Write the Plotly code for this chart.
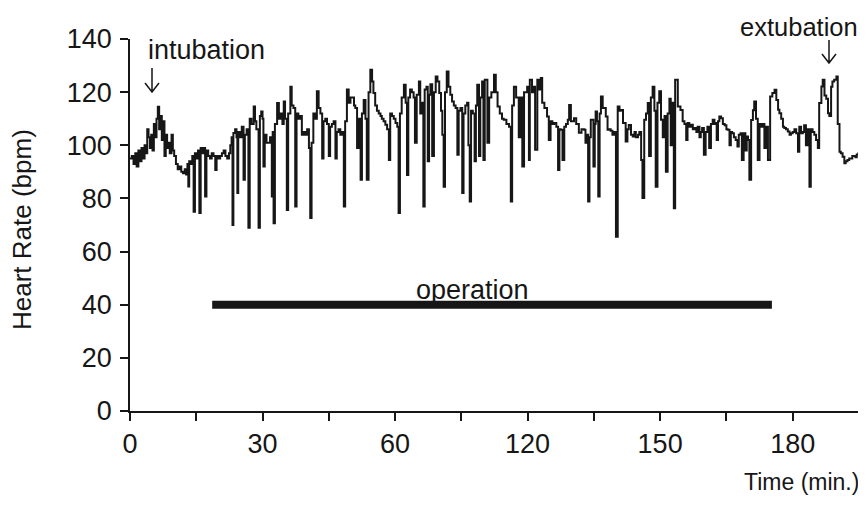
import plotly.graph_objects as go

# ---------------- data ----------------
# time axis in plotted position units (ticks every 15 units, labelled as in the original)
t_a = [0.0,0.4,0.8,1.2,1.5,1.9,2.3,2.6,3.0,3.3,3.6,3.9,4.2,4.5,4.8,5.1,5.4,5.7,6.0,6.3,6.6,6.9,7.2,7.5,7.8,
       8.1,8.4,8.7,9.0,9.4,9.7,10.0,10.4,10.8,11.2,11.6,12.0,12.4,12.7,13.0,13.2,13.4,13.8,14.1,14.4,14.7,15.1,15.4,15.7,16.0]
hr_a = [95,96,93,97,92,98,94,99,95,100,97,106,103,99,104,98,108,103,110,114.5,106,111,102,109,96,
        104,99,101,97,104,98,96,93,91,92,90,89.5,91,89,93,84.5,94,93,96,75,97,95,98,74.5,99]
t_b = [16.3,16.7,17.0,17.3,17.7,18.1,18.5,18.9,19.3,19.6,20.0,20.4,20.8,21.2,21.6,22.0,22.4,22.7,23.0,23.2,23.4,23.8,24.1,24.3,24.5]
hr_b = [97,99,80.7,98,96,95,97,96,90.7,96,95,96,97,98,96,95,97,100,103,70,104.6,106,103,82,105]
t_c = [24.9,25.3,25.7,26.0,26.4,26.8,27.1,27.5,28.0,28.3,28.6,29.1,29.4,29.7,30.0,30.2,30.5,30.9,31.3,31.7,32.1,32.3,32.5,32.8]
hr_c = [103,107,87,104,106,69,110,108,114.6,109,106,69,111,112.7,110,92,104,101,101,103,80.7,105,70.7,108]
t_d = [33.3,33.7,34.1,34.5,34.8,35.1,35.5,35.8,36.3,36.6,37.0,37.4,37.7,38.1,38.5,38.9,39.3,39.7,40.1,40.5,40.8,41.1,41.5,41.9,42.3]
hr_d = [115.9,110,112,108,116.5,110,75.6,112,122,115,114,77,112,110,111,104,105,104,106,99,72.6,101,112,110,120.3]
t_e = [42.7,43.1,43.5,43.8,44.2,44.6,45.0,45.3,45.7,46.1,46.5,46.8,47.2,47.6,48.0,48.4,48.7,49.1,49.5,49.9,50.3,50.7,51.0,51.4,51.8]
hr_e = [114,112,95,109,110,108,96,107,108,109,95,105,106,104,105,77,109,121,116,118,118,115,114,99,110]
t_f = [52.2,52.5,52.9,53.3,53.6,54.0,54.4,54.8,55.1,55.5,55.9,56.3,56.7,57.0,57.4,57.8,58.2,58.6,58.9,59.3,59.7,60.1,60.5,60.8,61.1]
hr_f = [87,112,117,110,87,120,128.4,124,119.7,115,113,112,111,110,109,107.7,106,94.5,112,111,110,108.4,107,74.5,112]
t_g = [61.5,62.0,62.4,62.7,63.0,63.4,63.8,64.2,64.5,64.9,65.4,65.7,66.0,66.4,66.7,67.1,67.4,67.7,68.0,68.4,68.8,69.2,69.6,70.0,70.4]
hr_g = [118,122.8,116,88.8,118,121,120,118,101,119,124,112,116,77,121,122,94,119,123,96,120,125.9,124,119.7,113]
t_h = [70.7,71.0,71.3,71.7,72.1,72.5,72.9,73.3,73.7,74.1,74.4,74.8,75.2,75.5,75.9,76.3,76.6,76.9,77.2,77.6,78.0,78.3,78.6,79.0,79.3]
hr_h = [104,84.4,120,127.8,122,119,116.5,115,114,96.4,113,114,82,112,115,116,100,78.8,113,112,94,115,122.8,96,118]
t_i = [79.7,80.0,80.3,80.9,81.3,81.8,82.4,82.8,83.2,83.7,84.2,84.6,85.2,85.8,86.2,86.5,86.9,87.4,88.0,88.4,88.8,89.2,89.9,90.3,90.5]
hr_i = [124,94.5,124.7,101,118,120,126.5,120,114.6,112,110,109.6,108,107,78.8,115,122,118,103,118,92,120,122,94.5,124.7]
t_j = [91.0,91.4,91.7,92.2,92.6,93.0,93.3,93.8,94.4,94.8,95.2,95.6,96.0,96.5,96.9,97.2,97.5,97.9,98.3,98.7,99.1,99.4,99.8,100.5,101.0]
hr_j = [120,122,98.3,124.7,121,125.3,116,114,110.8,102,109,108,108.4,107,90.7,106,105.8,94.5,107,108,109.6,115.2,109,110.2,108]
t_k = [101.6,102.2,102.8,103.1,103.4,103.7,104.0,104.3,104.9,105.2,105.4,105.7,106.0,106.3,106.6,107.0,107.7,108.1,108.5,108.8,109.2,109.6,110.0,110.4,110.8]
hr_k = [104.7,106,105.8,101,104,78.8,103,109.6,92,108,112.7,109,80.7,112,118.4,114,110.8,105.8,106,105.5,104,105,65.6,114.6,113]
t_l = [111.1,111.6,112.2,112.6,112.9,113.4,113.8,114.2,114.5,115.0,115.3,115.7,116.0,116.4,116.8,117.2,117.5,117.9,118.3,118.7,119.0,119.4,119.8,120.2,120.6]
hr_l = [113.3,108.4,101.4,106,107.6,104,103.3,105,103,104,105,94.5,80.2,109.6,112,115.9,96,118,122,113,84.4,116,120.3,109.6,103]
t_m = [121.0,121.3,121.7,122.1,122.4,122.8,123.1,123.4,124.0,124.6,125.1,125.5,125.9,126.2,126.6,127.0,127.4,127.8,128.2,128.5,128.9,129.2,129.5,129.9,130.3]
hr_m = [111,90,112,117.5,100,116,76.3,124.7,114.6,113.3,109,108,102,108.4,107,107.7,106,106.5,105,107,103,105,106.5,96.4,105]
t_n = [130.7,131.1,131.5,131.9,132.3,132.6,132.8,133.1,133.4,133.8,134.2,134.6,135.0,135.3,135.7,136.0,136.3,136.7,137.1,137.5,137.8,138.2,138.5,138.9,139.3]
hr_n = [107,99,108,109.6,108,108.4,102,109,110.8,110.2,108,107.5,106,105.8,100,105,104.5,103,102,99.5,104,104.5,94.5,104.5,98]
t_o = [139.6,139.9,140.2,140.6,141.0,141.3,141.7,142.1,142.5,142.9,143.2,143.6,144.0,144.4,144.9,145.4,145.9,146.3,146.7,147.0,147.4,147.8,148.1,148.5,148.9]
hr_o = [103.3,102,87,109.5,113.2,116.5,110,94.5,108,107,108,99,107,94.5,118.4,119.7,120.9,117,113.4,112.1,110,107,106.5,106,105.2]
t_p = [149.3,149.6,150.0,150.4,150.8,151.2,151.5,151.9,152.3,152.6,153.0,153.4,153.8,154.1,154.5,154.9,155.3,155.7,156.0,156.5,156.8,157.2,157.6,158.0,158.3]
hr_p = [104,104.5,105,106,104.5,97.6,107,104.5,105,107.5,100,106,84.4,106,105,104,102,99,115.9,122.1,124.7,118.7,117.5,112.1,111]
t_q = [158.7,159.0,159.4,159.9,160.2,160.6,160.9,161.3,161.7,162.0,162.4,162.8,163.1,163.5,163.8,164.2,164.5,164.9,165.2,165.6,165.9,166.3,166.6]
hr_q = [122,124,124.7,125.9,108,97.6,97,95.7,93.2,94,94.5,95,95,96,96,95.5,96.5,97,97.6,99,100.1,99,99.5]

time_segments = [t_a, t_b, t_c, t_d, t_e, t_f, t_g, t_h, t_i, t_j, t_k, t_l, t_m, t_n, t_o, t_p, t_q]
hr_segments = [hr_a, hr_b, hr_c, hr_d, hr_e, hr_f, hr_g, hr_h, hr_i, hr_j, hr_k, hr_l, hr_m, hr_n, hr_o, hr_p, hr_q]

time_pos = []
heart_rate = []
for ts, hs in zip(time_segments, hr_segments):
    n = min(len(ts), len(hs))
    time_pos.extend(ts[:n])
    heart_rate.extend(hs[:n])

# operation period (position units) and its level on the chart
operation_start = 18.6
operation_end = 145.3
operation_level = 40

# tick positions and labels (as printed in the original)
x_tick_vals = [0, 15, 30, 45, 60, 75, 90, 105, 120, 135, 150, 165]
x_tick_text = ["0", "", "30", "", "60", "", "120", "", "150", "", "180", ""]
y_tick_vals = [0, 20, 40, 60, 80, 100, 120, 140]

# ---------------- figure ----------------
FONT = "Liberation Sans, Arial, Helvetica, sans-serif"
INK = "#161616"
OFF = 8                       # page body margin of the generated html
W, H = 866, 508
ML, MR, MT, MB = 122, 8, 31, 105
PW, PH = W - ML - MR, H - MT - MB


def px_x(page_px):
    return (page_px - OFF - ML) / PW


def px_y(page_py):
    return (H - MB - (page_py - OFF)) / PH


fig = go.Figure()
fig.add_trace(go.Scatter(x=time_pos, y=heart_rate, mode="lines",
                         line=dict(color=INK, width=2, shape="hv"), hoverinfo="skip"))
fig.add_trace(go.Scatter(x=[operation_start, operation_end], y=[operation_level, operation_level],
                         mode="lines", line=dict(color=INK, width=8), hoverinfo="skip"))

fig.update_layout(
    width=W, height=H,
    margin=dict(l=ML, r=MR, t=MT, b=MB),
    plot_bgcolor="white", paper_bgcolor="white",
    showlegend=False,
    font=dict(family=FONT, size=27, color=INK),
)
fig.update_xaxes(range=[0, 166.6], showline=True, linecolor=INK, linewidth=1.5,
                 ticks="outside", ticklen=8, tickwidth=1.5, tickcolor=INK,
                 tickvals=x_tick_vals, ticktext=x_tick_text,
                 showgrid=False, zeroline=False, tickfont=dict(size=27, color=INK))
fig.update_yaxes(range=[0, 140], showline=True, linecolor=INK, linewidth=1.5,
                 ticks="outside", ticklen=8, tickwidth=1.5, tickcolor=INK,
                 tickvals=y_tick_vals, showgrid=False, zeroline=False,
                 ticklabelstandoff=3, tickfont=dict(size=27, color=INK))

annotations = [
    dict(text="Heart Rate (bpm)", xref="paper", yref="paper", x=px_x(22), y=px_y(229),
         textangle=-90, showarrow=False, xanchor="center", yanchor="middle",
         font=dict(size=26, color=INK, family=FONT)),
    dict(text="Time (min.)", xref="paper", yref="paper", x=px_x(861), y=px_y(482),
         showarrow=False, xanchor="right", yanchor="middle",
         font=dict(size=23, color=INK, family=FONT)),
    dict(text="intubation", xref="paper", yref="paper", x=px_x(206), y=px_y(50),
         showarrow=False, xanchor="center", yanchor="middle",
         font=dict(size=27, color=INK, family=FONT)),
    dict(text="extubation", xref="paper", yref="paper", x=px_x(799), y=px_y(27),
         showarrow=False, xanchor="center", yanchor="middle",
         font=dict(size=25.5, color=INK, family=FONT)),
    dict(text="operation", xref="x", yref="y", x=(operation_start + operation_end) / 2 - 4.4,
         y=operation_level + 5.5, showarrow=False, xanchor="center", yanchor="middle",
         font=dict(size=27, color=INK, family=FONT)),
]
fig.update_layout(annotations=annotations)


def arrow_path(px, top, bottom, hw=7, hh=9):
    x0 = px_x(px)
    x1 = px_x(px - hw)
    x2 = px_x(px + hw)
    yt = px_y(top)
    yb = px_y(bottom)
    yh = px_y(bottom - hh)
    return f"M {x0},{yt} L {x0},{yb} M {x1},{yh} L {x0},{yb} L {x2},{yh}"


shapes = [
    dict(type="path", xref="paper", yref="paper", path=arrow_path(152, 68, 92),
         line=dict(color=INK, width=1.5)),
    dict(type="path", xref="paper", yref="paper", path=arrow_path(829, 40, 63),
         line=dict(color=INK, width=1.5)),
]
fig.update_layout(shapes=shapes)

fig.write_html("out.html")
